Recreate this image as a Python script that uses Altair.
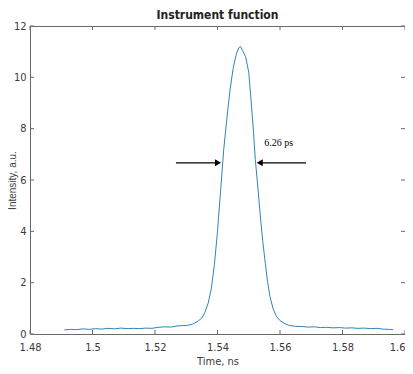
import altair as alt
import pandas as pd

# ---- data ----
time_ns = [1.4910, 1.4930, 1.4950, 1.4970, 1.4990, 1.5010, 1.5030, 1.5050, 1.5070, 1.5090,
           1.5110, 1.5130, 1.5150, 1.5170, 1.5190, 1.5210, 1.5230, 1.5250, 1.5270, 1.5290,
           1.5300, 1.5320, 1.5335, 1.5350, 1.5360, 1.5370, 1.5380, 1.5390, 1.5400, 1.5410,
           1.5420, 1.5430, 1.5440, 1.5450, 1.5460, 1.5468, 1.5474, 1.5480, 1.5490, 1.5500,
           1.5508, 1.5515, 1.5521, 1.5530, 1.5537, 1.5545, 1.5553, 1.5560, 1.5568, 1.5578,
           1.5589, 1.5600, 1.5616, 1.5630, 1.5650, 1.5670, 1.5690, 1.5710, 1.5730, 1.5750,
           1.5770, 1.5790, 1.5810, 1.5830, 1.5850, 1.5870, 1.5890, 1.5910, 1.5930, 1.5950,
           1.5962]
intensity = [0.16, 0.18, 0.17, 0.20, 0.18, 0.21, 0.19, 0.22, 0.20, 0.23,
             0.21, 0.22, 0.21, 0.23, 0.22, 0.26, 0.28, 0.27, 0.31, 0.33,
             0.33, 0.38, 0.48, 0.62, 0.85, 1.20, 1.75, 2.70, 4.00, 5.60,
             7.20, 8.40, 9.50, 10.35, 10.90, 11.15, 11.20, 11.05, 10.80, 10.20,
             9.00, 7.90, 6.80, 5.60, 4.60, 3.60, 2.75, 2.05, 1.45, 0.98,
             0.68, 0.52, 0.40, 0.33, 0.30, 0.29, 0.27, 0.28, 0.25, 0.26,
             0.24, 0.25, 0.23, 0.24, 0.22, 0.23, 0.21, 0.22, 0.19, 0.18,
             0.17]

x_ticks = [1.48, 1.50, 1.52, 1.54, 1.56, 1.58, 1.60]
y_ticks = [0, 2, 4, 6, 8, 10, 12]

arrow_level = 6.67
left_arrow = [1.5267, 1.54016]    # tail, head centre
right_arrow = [1.5683, 1.55351]   # tail, head centre
fwhm_label = "6.26 ps"
label_pos = [1.5596, 7.46]

x_dom = [1.48, 1.60]
y_dom = [0, 12]

W, H = 375, 308
tick_px = 4
tx = tick_px * (x_dom[1] - x_dom[0]) / W
ty = tick_px * (y_dom[1] - y_dom[0]) / H

narrow = "Liberation Sans Narrow, DejaVu Sans Condensed, Arial Narrow, sans-serif"

xs = alt.Scale(domain=x_dom, nice=False, zero=False)
ys = alt.Scale(domain=y_dom, nice=False, zero=False)

label_expr = ("format(datum.value, '.2f') == '1.50' ? '1.5' : "
              "(format(datum.value, '.2f') == '1.60' ? '1.6' : format(datum.value, '.2f'))")

x_axis = alt.Axis(values=x_ticks, labelExpr=label_expr, title="Time, ns",
                  ticks=False, domain=False, grid=False, labelFlush=False,
                  labelAlign={"condition": {"test": "datum.value >= 1.599", "value": "right"},
                              "value": "center"},
                  labelFont=narrow, labelFontSize=11, labelColor="#3a3a3a",
                  labelPadding=7, titleFont=narrow, titleFontSize=11,
                  titleFontWeight="normal", titleColor="#3a3a3a", titlePadding=3)
y_axis = alt.Axis(values=y_ticks, title="Intensity, a.u.", ticks=False, domain=False,
                  grid=False, labelFlush=False, labelFont=narrow, labelFontSize=11,
                  labelColor="#3a3a3a",
                  labelPadding=4, titleFont="Liberation Sans, Arial, sans-serif",
                  titleFontSize=10, titleFontWeight="normal", titleColor="#3a3a3a",
                  titleX=-15, titleY=H / 2, titleAngle=270, titleBaseline="alphabetic",
                  titleAlign="center")


def X(field):
    return alt.X(field, scale=xs, axis=x_axis, title="Time, ns")


def Y(field):
    return alt.Y(field, scale=ys, axis=y_axis, title="Intensity, a.u.")


line_df = pd.DataFrame({"t": time_ns, "I": intensity})

line = alt.Chart(line_df).mark_line(color="#3283b8", strokeWidth=1).encode(
    x=X("t:Q"),
    y=Y("I:Q"),
)

# inward tick marks (MATLAB style)
tick_rows = []
for v in x_ticks:
    tick_rows.append({"x": v, "x2": v, "y": y_dom[0], "y2": y_dom[0] + ty})
    tick_rows.append({"x": v, "x2": v, "y": y_dom[1], "y2": y_dom[1] - ty})
for v in y_ticks:
    tick_rows.append({"x": x_dom[0], "x2": x_dom[0] + tx, "y": v, "y2": v})
    tick_rows.append({"x": x_dom[1], "x2": x_dom[1] - tx, "y": v, "y2": v})
ticks_df = pd.DataFrame(tick_rows)

ticks = alt.Chart(ticks_df).mark_rule(color="#6a6a6a", strokeWidth=1).encode(
    x=X("x:Q"),
    x2="x2:Q",
    y=Y("y:Q"),
    y2="y2:Q",
)

arrow_df = pd.DataFrame({
    "x": [left_arrow[0], right_arrow[0]],
    "x2": [left_arrow[1], right_arrow[1]],
    "y": [arrow_level, arrow_level],
    "shape": ["triangle-right", "triangle-left"],
})

arrow_lines = alt.Chart(arrow_df).mark_rule(color="black", strokeWidth=1.2).encode(
    x=X("x:Q"),
    x2="x2:Q",
    y=Y("y:Q"),
)

arrow_heads = alt.Chart(arrow_df).mark_point(filled=True, size=50, color="black", opacity=1).encode(
    x=X("x2:Q"),
    y=Y("y:Q"),
    shape=alt.Shape("shape:N", scale=None, legend=None),
)

label_df = pd.DataFrame({"x": [label_pos[0]], "y": [label_pos[1]], "text": [fwhm_label]})
label = alt.Chart(label_df).mark_text(font="Liberation Serif, Times New Roman, serif",
                                      fontSize=10, color="black").encode(
    x=X("x:Q"),
    y=Y("y:Q"),
    text="text:N",
)

chart = alt.layer(line, ticks, arrow_lines, arrow_heads, label).properties(
    width=W,
    height=H,
    title=alt.TitleParams("Instrument function", font=narrow, fontSize=12, fontWeight="bold",
                          color="#222222", offset=-2, anchor="middle"),
    autosize=alt.AutoSizeParams(type="none"),
    padding={"left": 22, "top": 18, "right": 0, "bottom": 32},
    background="white",
).configure_view(stroke="#6a6a6a", strokeWidth=1)

chart.save("out.html", embed_options={"renderer": "svg", "actions": False})
